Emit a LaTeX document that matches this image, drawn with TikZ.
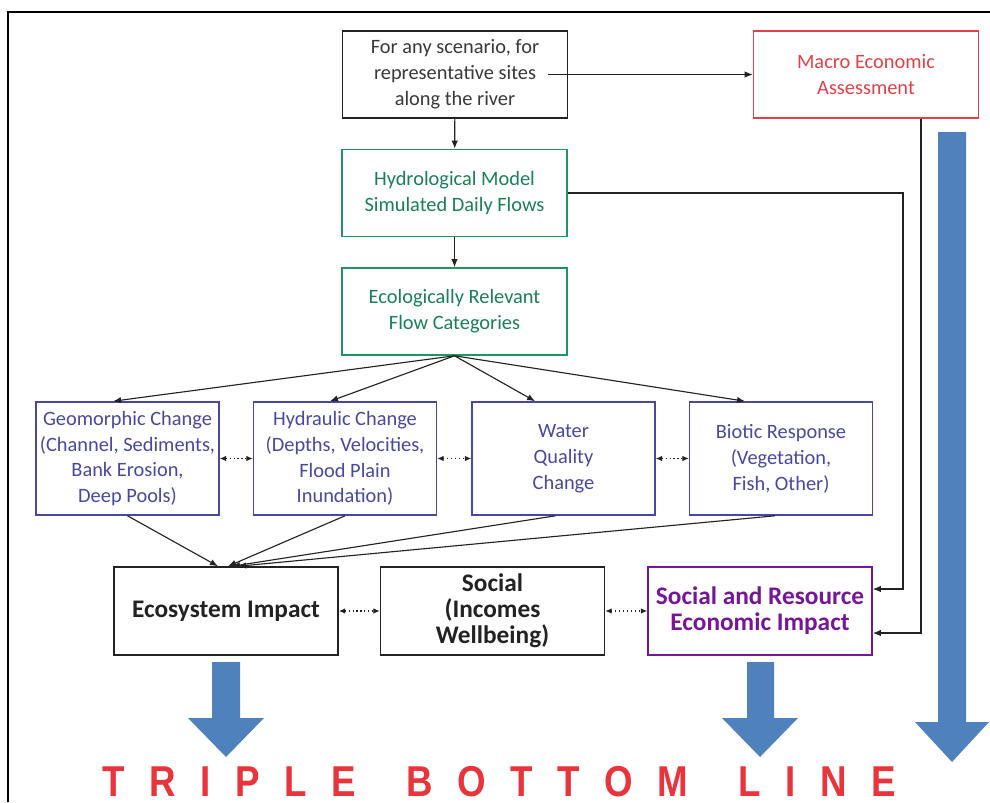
\documentclass[tikz,border=0pt]{standalone}
\usepackage{fontspec}
\setmainfont{Carlito}
\newfontfamily\titlefont[LetterSpace=57,FakeStretch=0.85]{Liberation Sans}
\usepackage{xcolor}
\usepackage{tikz}
\usetikzlibrary{arrows.meta, positioning}
\definecolor{boxgrey}{RGB}{34,34,34}
\definecolor{macrored}{RGB}{226,64,72}
\definecolor{hydgreen}{RGB}{30,150,100}
\definecolor{impblue}{RGB}{72,72,158}
\definecolor{sepurple}{RGB}{118,22,150}
\definecolor{tblblue}{RGB}{79,129,189}
\definecolor{tblred}{RGB}{232,52,58}

\begin{document}
\begin{tikzpicture}[
  x=0.025cm, y=-0.025cm,
  box/.style={draw,line width=1.1pt,align=center,inner sep=0pt,
    minimum width=5.625cm,minimum height=2.175cm,
    font=\fontsize{14.5}{18.4}\selectfont},
  blackbox/.style={box,draw=boxgrey,text=boxgrey!90!white},
  redbox/.style={box,draw=macrored,text=macrored},
  greenbox/.style={box,draw=hydgreen,text=hydgreen!85!black},
  bluebox/.style={box,draw=impblue,text=impblue,
    minimum width=4.575cm,minimum height=2.825cm},
  impactbox/.style={box,draw=boxgrey,text=boxgrey,minimum width=5.6cm,
    minimum height=2.2cm,font=\fontsize{18}{18.6}\selectfont\bfseries},
  conn/.style={-{Latex[length=2mm,width=1.6mm]},draw=boxgrey,line width=0.8pt},
  link/.style={{Latex[length=1.6mm,width=1.4mm]}-{Latex[length=1.6mm,width=1.4mm]},
    draw=boxgrey,line width=0.8pt,dotted},
  bigarrow/.style={fill=tblblue}
]
\useasboundingbox (0,0) rectangle (990,802);
\draw[line width=1.4pt] (8,802) -- (8,12) -- (990,12);
% top row
\node[blackbox] (scen) at (455,74.5) {For any scenario, for\\representative sites\\along the river};
\node[redbox] (macro) at (866,74.5) {Macro Economic\\Assessment};
\node[greenbox] (hydro) at (454.5,193) {Hydrological Model\\Simulated Daily Flows};
\node[greenbox] (flowcat) at (454.5,311.5) {Ecologically Relevant\\Flow Categories};
% change boxes
\node[bluebox] (geo) at (127.5,458.5) {Geomorphic Change\\(Channel, Sediments,\\Bank Erosion,\\Deep Pools)};
\node[bluebox] (hyd) at (345,458.5) {Hydraulic Change\\(Depths, Velocities,\\Flood Plain\\Inundation)};
\node[bluebox] (wq) at (563.5,458.5) {Water\\Quality\\Change};
\node[bluebox] (bio) at (781,458.5) {Biotic Response\\(Vegetation,\\Fish, Other)};
% impact boxes
\node[impactbox] (eco) at (226,611) {Ecosystem Impact};
\node[impactbox] (soc) at (492.5,611) {Social\\(Incomes\\Wellbeing)};
\node[impactbox,draw=sepurple,text=sepurple] (sre) at (760,611) {Social and Resource\\Economic Impact};

\draw[conn] (scen) -- (hydro);
\draw[conn] ([xshift=-0.5cm]scen.east) -- (macro.west);
\draw[conn] (hydro) -- (flowcat);
\draw[conn] (hydro.east) -- (903,193) |- ([yshift=0.55cm]sre.east);
\draw[conn] ([xshift=1.375cm]macro.south) |- ([yshift=-0.55cm]sre.east);
\draw[conn] (flowcat.south) -- ([xshift=-0.36cm]geo.north);
\draw[conn] (flowcat.south) -- ([xshift=-0.375cm]hyd.north);
\draw[conn] (flowcat.south) -- ([xshift=-0.71cm]wq.north);
\draw[conn] (flowcat.south) -- ([xshift=-0.9cm]bio.north);
\draw[conn] (geo.south) -- ([xshift=-0.2cm]eco.north);
\draw[conn] (hyd.south) -- ([xshift=0.05cm]eco.north);
\draw[conn] ([xshift=-0.2cm]wq.south) -- ([xshift=0.15cm]eco.north);
\draw[conn] ([xshift=-0.15cm]bio.south) -- ([xshift=0.3cm]eco.north);
\draw[link] (geo) -- (hyd);
\draw[link] (hyd) -- (wq);
\draw[link] (wq) -- (bio);
\draw[link] (eco) -- (soc);
\draw[link] (soc) -- (sre);

% triple bottom line arrows
\fill[bigarrow] (212,662) -- (240,662) -- (240,718) -- (264,718) -- (226,757)
  -- (188,718) -- (212,718) -- cycle;
\fill[bigarrow] (747,662) -- (774,662) -- (774,718) -- (798,718) -- (760,757)
  -- (722,718) -- (747,718) -- cycle;
\fill[bigarrow] (938,132) -- (966,132) -- (966,722) -- (989,722) -- (952,762)
  -- (915,722) -- (938,722) -- cycle;
\node[anchor=west,inner sep=0pt,text=tblred,font=\titlefont\fontsize{30.7}{32}\selectfont\bfseries]
  (tbl) at (102,781.5) {TRIPLE\hspace{0.4cm} BOTTOM\hspace{0.4cm} LINE};
\end{tikzpicture}
\end{document}
